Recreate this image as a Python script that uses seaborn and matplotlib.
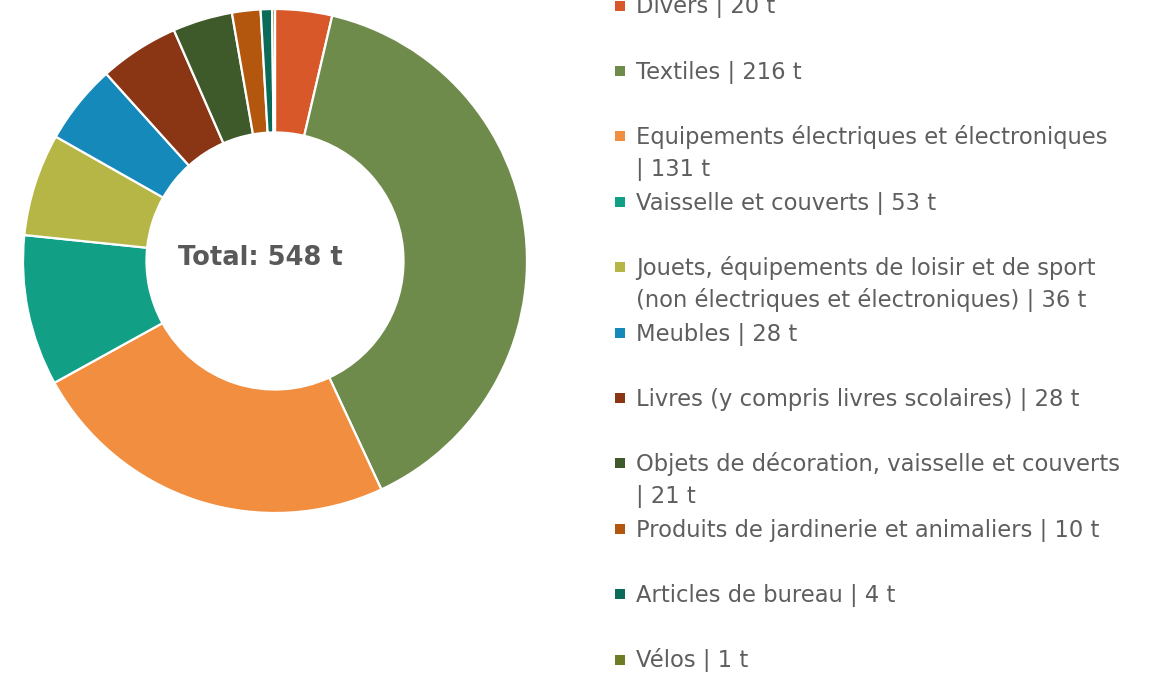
import matplotlib
matplotlib.use("Agg")
import matplotlib.pyplot as plt
import seaborn as sns

categories = [
    "Divers",
    "Textiles",
    "Equipements électriques et électroniques",
    "Vaisselle et couverts",
    "Jouets, équipements de loisir et de sport",
    "Meubles",
    "Livres (y compris livres scolaires)",
    "Objets de décoration, vaisselle et couverts",
    "Produits de jardinerie et animaliers",
    "Articles de bureau",
    "Vélos",
]
values = [20, 216, 131, 53, 36, 28, 28, 21, 10, 4, 1]
legend_labels = [
    "Divers | 20 t",
    "Textiles | 216 t",
    "Equipements électriques et électroniques\n| 131 t",
    "Vaisselle et couverts | 53 t",
    "Jouets, équipements de loisir et de sport\n(non électriques et électroniques) | 36 t",
    "Meubles | 28 t",
    "Livres (y compris livres scolaires) | 28 t",
    "Objets de décoration, vaisselle et couverts\n| 21 t",
    "Produits de jardinerie et animaliers | 10 t",
    "Articles de bureau | 4 t",
    "Vélos | 1 t",
]
total_label = "Total: 548 t"
colors_hex = [
    "#D9582A", "#6E8B4C", "#F28E3F", "#11A085", "#B5B646", "#1589BA",
    "#8A3514", "#3F5A2A", "#B4570E", "#0A6B58", "#6E7D25",
]

sns.set_theme(style="white")
plt.rcParams["font.family"] = ["DejaVu Sans"]
palette = sns.color_palette(colors_hex)

W, H = 1163, 673
fig = plt.figure(figsize=(W / 100, H / 100), dpi=100)
fig.patch.set_facecolor("white")

cx, cy, R = 275, 261, 252
ax = fig.add_axes([(cx - R) / W, (H - cy - R) / H, 2 * R / W, 2 * R / H])
ax.pie(values, colors=palette, startangle=90, counterclock=False, radius=1.0,
       wedgeprops=dict(width=0.49, edgecolor="white", linewidth=1.6))
ax.set_xlim(-1, 1)
ax.set_ylim(-1, 1)
ax.set_aspect("equal")
ax.axis("off")
ax.text((260 - cx) / R, (cy - 265) / R, total_label, ha="center", va="baseline",
        fontsize=18.5, fontweight="bold", color="#595959")

# legend panel in pixel coordinates
lax = fig.add_axes([0, 0, 1, 1])
lax.set_xlim(0, W)
lax.set_ylim(H, 0)
lax.axis("off")
y0, step, line = 5.5, 65.4, 32
for i, (lab, col) in enumerate(zip(legend_labels, palette)):
    yc = y0 + i * step
    lax.scatter([620], [yc], marker="s", s=62, color=col, linewidths=0)
    for j, part in enumerate(lab.split("\n")):
        lax.text(636, yc + 8 + j * line, part, ha="left", va="baseline",
                 fontsize=16.3, color="#5E5E5E")

fig.savefig("out.png", dpi=100, facecolor="white")
